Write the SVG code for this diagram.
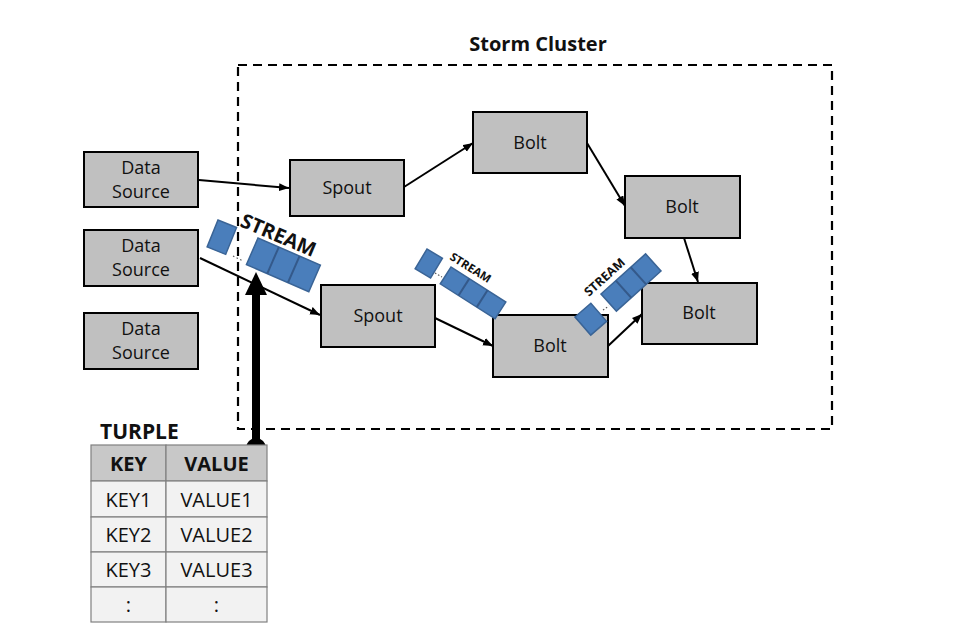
<svg xmlns="http://www.w3.org/2000/svg" width="978" height="640" viewBox="0 0 978 640">
<style>
.node{fill:#c0c0c0;stroke:#000;stroke-width:2}
.lbl{font-family:"Open Sans","Noto Sans",sans-serif;font-size:18px;fill:#111;text-anchor:middle}
.conn{stroke:#000;stroke-width:2;fill:none;marker-end:url(#ah)}
.pk{fill:#4a7ebb;stroke:#3a6496;stroke-width:1.5}
.div{stroke:#34598a;stroke-width:2}
.st{font-family:"Open Sans","Noto Sans",sans-serif;font-weight:bold;fill:#111}
.tb{font-family:"Open Sans","Noto Sans",sans-serif;font-size:20px;fill:#111;text-anchor:middle}
.cell{stroke:#808080;stroke-width:1.2}
</style>
<defs>
<marker id="ah" markerUnits="userSpaceOnUse" markerWidth="12" markerHeight="10" refX="10" refY="4" orient="auto">
<path d="M0,0 L10,4 L0,8 Z" fill="#000"/>
</marker>
</defs>
<rect width="978" height="640" fill="#fff"/>

<g id="cluster">
<rect x="238" y="65" width="594" height="364" fill="none" stroke="#000" stroke-width="2.2" stroke-dasharray="9,6"/>
<text x="538" y="51" class="st" font-size="20" text-anchor="middle">Storm Cluster</text>
</g>

<g id="connectors">
<line class="conn" x1="199" y1="180" x2="289" y2="188"/>
<line class="conn" x1="404" y1="187" x2="473" y2="143"/>
<line class="conn" x1="587" y1="143" x2="625" y2="206"/>
<line class="conn" x1="684" y1="238" x2="698" y2="282"/>
<line class="conn" x1="200" y1="258" x2="320" y2="315"/>
<line class="conn" x1="435" y1="318" x2="493" y2="346"/>
<line class="conn" x1="608" y1="346" x2="642" y2="314"/>
</g>

<g id="ds1"><rect class="node" x="84" y="152" width="114" height="55"/><text class="lbl" x="141" y="174">Data</text><text class="lbl" x="141" y="198">Source</text></g>
<g id="ds2"><rect class="node" x="84" y="230" width="114" height="56"/><text class="lbl" x="141" y="252">Data</text><text class="lbl" x="141" y="276">Source</text></g>
<g id="ds3"><rect class="node" x="84" y="313" width="114" height="56"/><text class="lbl" x="141" y="335">Data</text><text class="lbl" x="141" y="359">Source</text></g>
<g id="spout1"><rect class="node" x="290" y="160" width="114" height="56"/><text class="lbl" x="347" y="194">Spout</text></g>
<g id="spout2"><rect class="node" x="321" y="285" width="114" height="62"/><text class="lbl" x="378" y="322">Spout</text></g>
<g id="bolt1"><rect class="node" x="473" y="112" width="114" height="61"/><text class="lbl" x="530" y="149">Bolt</text></g>
<g id="bolt2"><rect class="node" x="625" y="176" width="115" height="62"/><text class="lbl" x="682" y="213">Bolt</text></g>
<g id="bolt3"><rect class="node" x="493" y="315" width="115" height="62"/><text class="lbl" x="550" y="352">Bolt</text></g>
<g id="bolt4"><rect class="node" x="642" y="283" width="115" height="61"/><text class="lbl" x="699" y="319">Bolt</text></g>

<g id="stream1">
<g transform="translate(218,220) rotate(22)"><rect class="pk" x="0" y="0" width="20" height="29"/></g>
<g transform="translate(258,238) rotate(23.5)"><rect class="pk" x="0" y="0" width="68" height="29"/><line class="div" x1="22.7" y1="0" x2="22.7" y2="29"/><line class="div" x1="45.3" y1="0" x2="45.3" y2="29"/></g>
<line x1="233" y1="256" x2="243" y2="261" stroke="#555" stroke-width="1.2" stroke-dasharray="1.5,2.5"/>
<text class="st" font-size="20" transform="translate(239,226) rotate(23)">STREAM</text>
</g>

<g id="stream2">
<g transform="translate(427,249) rotate(31)"><rect class="pk" x="0" y="0" width="18" height="23"/></g>
<g transform="translate(451,267) rotate(32.5)"><rect class="pk" x="0" y="0" width="65" height="20"/><line class="div" x1="21.7" y1="0" x2="21.7" y2="20"/><line class="div" x1="43.3" y1="0" x2="43.3" y2="20"/></g>
<line x1="435" y1="273" x2="442" y2="277" stroke="#555" stroke-width="1.2" stroke-dasharray="1.5,2"/>
<text class="st" font-size="11.5" transform="translate(449,259) rotate(32)">STREAM</text>
</g>

<g id="stream3">
<g transform="translate(575,317) rotate(-41)"><rect class="pk" x="0" y="0" width="21" height="24"/></g>
<g transform="translate(601,294) rotate(-42)"><rect class="pk" x="0" y="0" width="60" height="23"/><line class="div" x1="20" y1="0" x2="20" y2="23"/><line class="div" x1="40" y1="0" x2="40" y2="23"/></g>
<line x1="603" y1="310" x2="609" y2="306" stroke="#555" stroke-width="1.2" stroke-dasharray="1.5,2"/>
<text class="st" font-size="12.5" transform="translate(589,297) rotate(-42)">STREAM</text>
</g>

<g id="tuple-arrow">
<line x1="256" y1="448" x2="256" y2="290" stroke="#000" stroke-width="8"/>
<path d="M256,272 L245,295 L267,295 Z" fill="#000"/>
<circle cx="256" cy="448" r="10" fill="#000"/>
</g>

<g id="turple">
<text class="st" font-size="21" x="100" y="439">TURPLE</text>
<rect class="cell" x="91" y="445" width="75" height="36" fill="#c8c8c8"/>
<rect class="cell" x="166" y="445" width="101" height="36" fill="#c8c8c8"/>
<rect class="cell" x="91" y="481" width="75" height="36" fill="#f2f2f2"/>
<rect class="cell" x="166" y="481" width="101" height="36" fill="#f2f2f2"/>
<rect class="cell" x="91" y="517" width="75" height="35" fill="#f2f2f2"/>
<rect class="cell" x="166" y="517" width="101" height="35" fill="#f2f2f2"/>
<rect class="cell" x="91" y="552" width="75" height="35" fill="#f2f2f2"/>
<rect class="cell" x="166" y="552" width="101" height="35" fill="#f2f2f2"/>
<rect class="cell" x="91" y="587" width="75" height="35" fill="#f2f2f2"/>
<rect class="cell" x="166" y="587" width="101" height="35" fill="#f2f2f2"/>
<text class="tb" x="128.5" y="471" font-weight="bold">KEY</text>
<text class="tb" x="216.5" y="471" font-weight="bold">VALUE</text>
<text class="tb" x="128.5" y="507">KEY1</text>
<text class="tb" x="216.5" y="507">VALUE1</text>
<text class="tb" x="128.5" y="542">KEY2</text>
<text class="tb" x="216.5" y="542">VALUE2</text>
<text class="tb" x="128.5" y="577">KEY3</text>
<text class="tb" x="216.5" y="577">VALUE3</text>
<text class="tb" x="128.5" y="612">:</text>
<text class="tb" x="216.5" y="612">:</text>
</g>
</svg>
